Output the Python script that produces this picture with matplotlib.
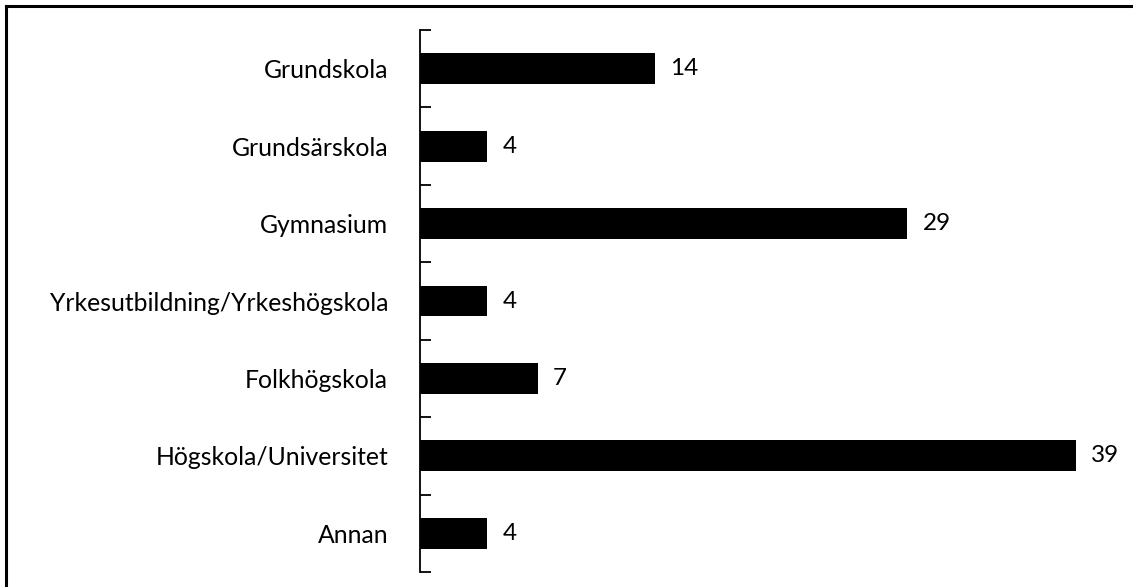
import matplotlib.pyplot as plt
import numpy as np
from matplotlib.lines import Line2D

plt.rcParams['font.family'] = ['Lato', 'DejaVu Sans']

categories = ["Grundskola", "Grundsärskola", "Gymnasium",
              "Yrkesutbildning/Yrkeshögskola", "Folkhögskola",
              "Högskola/Universitet", "Annan"]
values = [14, 4, 29, 4, 7, 39, 4]

W, H = 1133, 587
fig = plt.figure(figsize=(W / 100, H / 100), dpi=100)
ax = fig.add_axes([420 / W, 1 - 572 / H, (1126 - 420) / W, (572 - 30) / H])

y = np.arange(len(categories))
ax.barh(y, values, height=0.4, color='black')
ax.set_ylim(len(categories) - 0.5, -0.5)
ax.set_xlim(0, 42)

for yi, v in zip(y, values):
    ax.text(v + 0.9, yi, str(v), va='center', ha='left', fontsize=17.5)

ax.set_yticks(y)
ax.set_yticklabels(categories, fontsize=17.8)
ax.tick_params(axis='y', which='major', length=0, pad=23)
ax.set_yticks(np.arange(-0.5, len(categories)), minor=True)
ax.tick_params(axis='y', which='minor', direction='in', length=8, width=1.3)
ax.set_xticks([])
for s in ['top', 'right', 'bottom']:
    ax.spines[s].set_visible(False)
ax.spines['left'].set_linewidth(1.3)

# outer frame, only top and left edges show
fig.add_artist(Line2D([6 / W, 1], [1 - 6 / H, 1 - 6 / H], color='black', lw=2.2))
fig.add_artist(Line2D([6 / W, 6 / W], [0, 1 - 6 / H], color='black', lw=2.2))

fig.savefig('out.png', dpi=100)
